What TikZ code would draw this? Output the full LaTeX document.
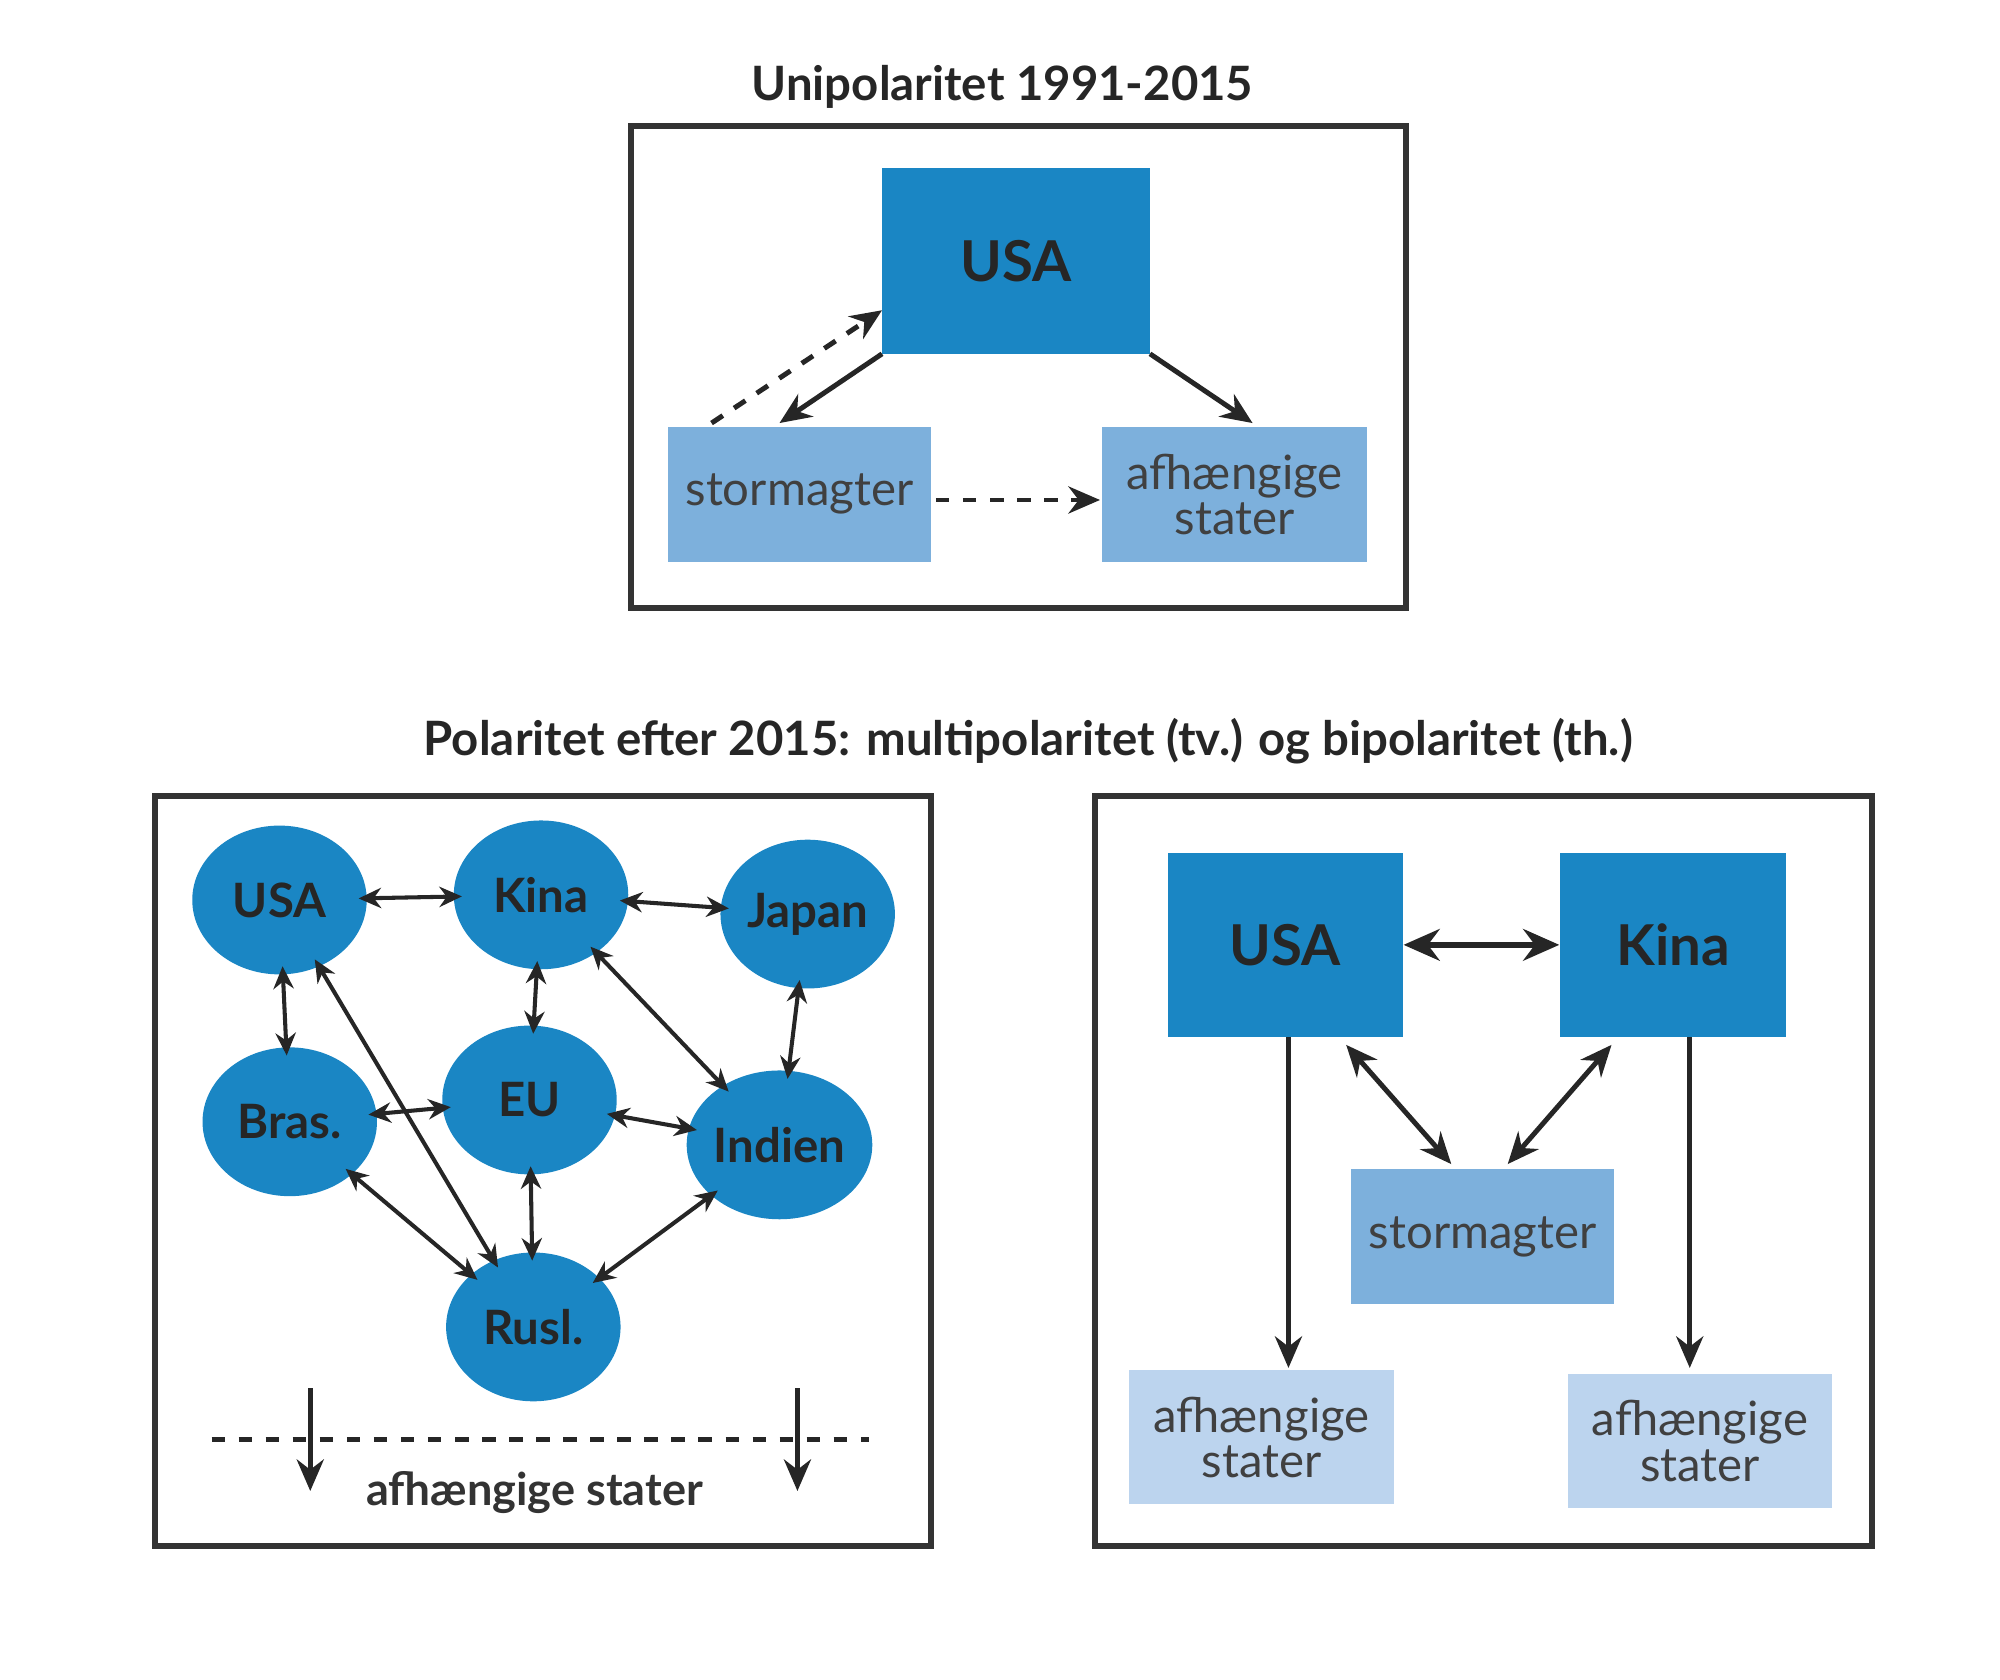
\documentclass[tikz,border=0pt]{standalone}
\usepackage{fontspec}
\setmainfont{Lato}
\usetikzlibrary{arrows.meta,shapes.geometric}
\definecolor{dk}{HTML}{1A86C4}
\definecolor{md}{HTML}{7DB0DC}
\definecolor{lt}{HTML}{BCD4EE}
\definecolor{ln}{HTML}{333333}
\begin{document}
\begin{tikzpicture}[x=0.01cm,y=-0.01cm,
 frame/.style={draw=ln,line width=1.3pt},
 bx/.style={inner sep=0pt,align=center,font=\fontsize{10.5}{10}\selectfont},
 dkbox/.style={fill=dk,font=\bfseries\fontsize{12.5}{13}\selectfont,text=black!85},
 ell/.style={ellipse,fill=dk,minimum width=1.36cm,minimum height=1.16cm,inner sep=0pt,font=\bfseries\fontsize{10.5}{12}\selectfont,text=black!85},
 ar/.style={-{Stealth[length=7pt,width=6pt]},line width=1.1pt,draw=black!85},
 dar/.style={<->,>={Stealth[length=5pt,width=4.5pt]},line width=0.9pt,draw=black!85,shorten <=-2pt,shorten >=-2pt},
 ttl/.style={font=\bfseries\fontsize{10.5}{12}\selectfont,text=black!85}]
\useasboundingbox (0,0) rectangle (1560,1310);
% top
\node[ttl] (t1) at (782,68) {Unipolaritet 1991-2015};
\draw[frame] (492,98) rectangle (1097,474);
\node[bx,dkbox,minimum width=2.09cm,minimum height=1.45cm] (usa) at (792.5,203.5) {USA};
\node[bx,fill=md,minimum width=2.05cm,minimum height=1.05cm,text=black!75] (st) at (623.5,385.5) {stormagter};
\node[bx,fill=md,minimum width=2.06cm,minimum height=1.05cm,text=black!75] (af) at (963,385.5) {afhængige\\stater};
\coordinate (u1) at (688,276); \coordinate (s1) at (608,330);
\coordinate (s2) at (555,330); \coordinate (u2) at (688,242);
\coordinate (u3) at (897,276); \coordinate (a1) at (977,330);
\coordinate (s3) at (730,390); \coordinate (a2) at (858,390);
\draw[ar] (u1) -- (s1);
\draw[ar,dashed] (s2) -- (u2);
\draw[ar] (u3) -- (a1);
\draw[ar,dashed] (s3) -- (a2);
% bottom title
\node[ttl] (t2) at (802,578) {Polaritet efter 2015: multipolaritet (tv.) og bipolaritet (th.)};
% left
\draw[frame] (121,621) rectangle (726,1206);
\node[ell] (U) at (218,702) {USA};
\node[ell] (K) at (422,698) {Kina};
\node[ell] (J) at (630,713) {Japan};
\node[ell] (B) at (226,875) {Bras.};
\node[ell] (E) at (413,858) {EU};
\node[ell] (I) at (608,893) {Indien};
\node[ell] (R) at (416,1035) {Rusl.};
\foreach \a/\b in {U/K,K/J,U/B,K/E,K/I,J/I,B/E,E/I,E/R,B/R,U/R,I/R}
  \draw[dar] (\a) -- (\b);
\coordinate (d1) at (165,1123); \coordinate (d2) at (678,1123);
\draw[line width=1.1pt,dashed,draw=black!85] (d1) -- (d2);
\coordinate (p1) at (242,1083); \coordinate (q1) at (242,1163);
\coordinate (p2) at (622,1083); \coordinate (q2) at (622,1163);
\draw[ar] (p1) -- (q1);
\draw[ar] (p2) -- (q2);
\node[bx,text=black!80,font=\bfseries\fontsize{10}{12}\selectfont] (afl) at (417,1164) {afhængige stater};
% right
\draw[frame] (854,621) rectangle (1460,1206);
\node[bx,dkbox,minimum width=1.83cm,minimum height=1.44cm] (U2) at (1002.5,737) {USA};
\node[bx,dkbox,minimum width=1.76cm,minimum height=1.44cm] (K2) at (1305,737) {Kina};
\node[bx,fill=md,minimum width=2.05cm,minimum height=1.05cm,text=black!75] (S2) at (1156.5,964.5) {stormagter};
\node[bx,fill=lt,minimum width=2.06cm,minimum height=1.04cm,text=black!75] (A1) at (984,1121) {afhængige\\stater};
\node[bx,fill=lt,minimum width=2.06cm,minimum height=1.04cm,text=black!75] (A2) at (1326,1124) {afhængige\\stater};
\draw[<->,>={Stealth[length=8pt,width=7pt]},line width=1.4pt,draw=black!85] (U2.east) -- (K2.west);
\coordinate (v1) at (1005,809); \coordinate (w1) at (1005,1067);
\coordinate (v2) at (1318,809); \coordinate (w2) at (1318,1067);
\draw[ar] (v1) -- (w1);
\draw[ar] (v2) -- (w2);
\coordinate (c1) at (1050,815); \coordinate (c2) at (1132,908);
\coordinate (c3) at (1257,815); \coordinate (c4) at (1176,908);
\draw[<->,>={Stealth[length=7pt,width=6pt]},line width=1.1pt,draw=black!85] (c1) -- (c2);
\draw[<->,>={Stealth[length=7pt,width=6pt]},line width=1.1pt,draw=black!85] (c3) -- (c4);
\end{tikzpicture}
\end{document}
